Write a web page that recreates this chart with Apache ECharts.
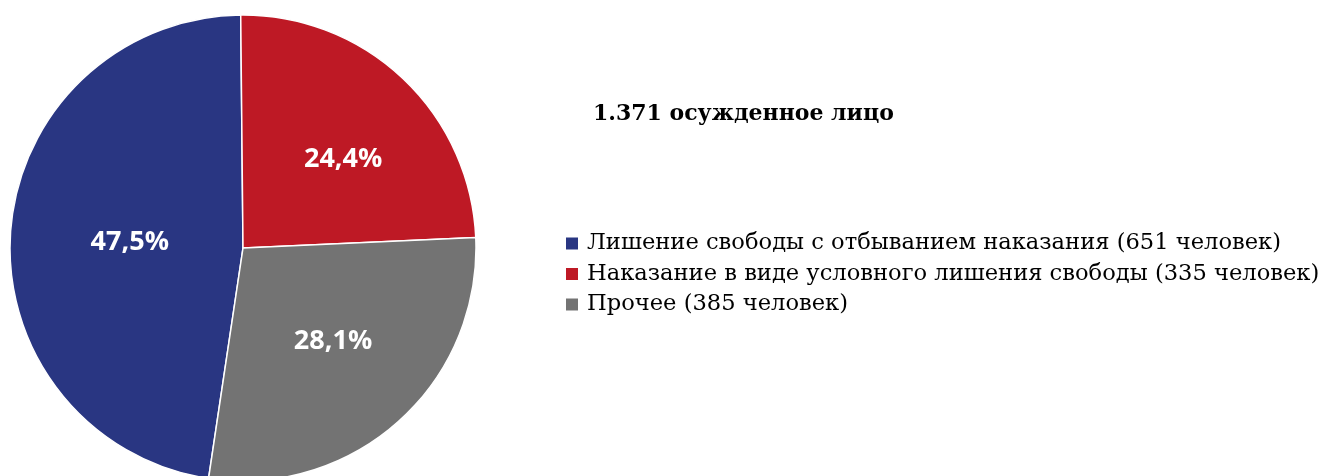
<!DOCTYPE html>
<html>
<head>
<meta charset="utf-8">
<script src="https://cdn.jsdelivr.net/npm/echarts@6/dist/echarts.min.js"></script>
<style>
    html, body { margin: 0; padding: 0; background: #fff; }
    #chart { width: 1331px; height: 476px; }
</style>
</head>
<body>
<div id="chart"></div>
<script>
var categories = [
    'Лишение свободы с отбыванием наказания (651 человек)',
    'Наказание в виде условного лишения свободы (335 человек)',
    'Прочее (385 человек)'
];
var values = [651, 335, 385];
var colors = ['#293682', '#be1925', '#737373'];
var titleText = '1.371 осужденное лицо';

// label nudges so the percentages sit where the original put them
var labelNudge = [[6, 3], [18, -2], [10, 5]];

var list = [];
for (var i = 0, l = categories.length; i < l; i++) {
    list.push({
        name: categories[i],
        value: values[i],
        itemStyle: { color: colors[i] },
        label: { offset: labelNudge[i] }
    });
}

var pieChart = echarts.init(document.getElementById('chart'));

option = {
    backgroundColor: '#fff',
    animation: false,
    title: {
        text: titleText,
        left: 588,
        top: 98,
        textStyle: {
            fontFamily: 'DejaVu Serif',
            fontSize: 22,
            fontWeight: 'bold',
            color: '#000'
        }
    },
    legend: {
        orient: 'vertical',
        left: 559,
        top: 227,
        icon: 'rect',
        itemWidth: 14,
        itemHeight: 14,
        itemGap: 7.5,
        textStyle: {
            fontFamily: 'DejaVu Serif',
            fontSize: 22.6,
            color: '#000',
            padding: [0, 0, 0, 3]
        },
        data: categories
    },
    series: [
        {
            name: 'Осужденные',
            type: 'pie',
            radius: 233,
            center: [243, 248],
            startAngle: 261.5,
            clockwise: true,
            percentPrecision: 1,
            data: list,
            itemStyle: {
                borderColor: '#fff',
                borderWidth: 1.5
            },
            label: {
                position: 'inside',
                color: '#fff',
                fontFamily: 'Open Sans',
                fontWeight: 'bold',
                fontSize: 27,
                formatter: function (p) {
                    return p.percent.toFixed(1).replace('.', ',') + '%';
                }
            },
            labelLine: { show: false },
            emphasis: { disabled: true }
        }
    ]
};
pieChart.setOption(option);
</script>
</body>
</html>
